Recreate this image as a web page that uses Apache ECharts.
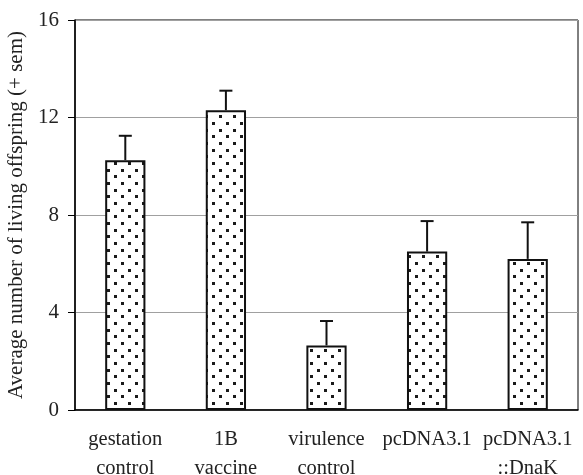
<!DOCTYPE html>
<html>
<head>
<meta charset="utf-8">
<script src="https://cdn.jsdelivr.net/npm/echarts@6/dist/echarts.min.js"></script>
<style>
html,body{margin:0;padding:0;background:#fff;}
#chart{width:583px;height:475px;}
</style>
</head>
<body>
<div id="chart"></div>
<script>
var categories = ['gestation\ncontrol', '1B\nvaccine', 'virulence\ncontrol', 'pcDNA3.1', 'pcDNA3.1\n::DnaK'];
var means = [10.25, 12.3, 2.65, 6.5, 6.2];
var sems = [1.0, 0.8, 1.0, 1.25, 1.5];
var yTicks = [0, 4, 8, 12, 16];

var pc = document.createElement('canvas');
pc.width = 14; pc.height = 40;
var ctx = pc.getContext('2d');
ctx.fillStyle = '#fff';
ctx.fillRect(0, 0, 14, 40);
ctx.fillStyle = '#1a1a1a';
var rowsY = [0, 7, 13, 20, 27, 33];
for (var r = 0; r < rowsY.length; r++) {
  ctx.fillRect((r % 2) * 7 + 2, rowsY[r] + 2, 3, 3);
}

var font = 'Liberation Serif';
var chart = echarts.init(document.getElementById('chart'));
chart.setOption({
  animation: false,
  backgroundColor: '#fff',
  grid: {left: 75, right: 5, top: 20, bottom: 65, show: true, borderColor: '#000', borderWidth: 1, backgroundColor: 'transparent', containLabel: false, outerBoundsMode: 'none'},
  xAxis: {
    type: 'category',
    data: categories,
    axisLine: {lineStyle: {color: '#000', width: 1.5}},
    axisTick: {show: false},
    axisLabel: {color: '#222', fontFamily: font, fontSize: 20.5, lineHeight: 29, margin: 15, interval: 0}
  },
  yAxis: {
    type: 'value',
    min: yTicks[0], max: yTicks[yTicks.length - 1], interval: 4,
    name: 'Average number of living offspring (+ sem)',
    nameLocation: 'middle',
    nameGap: 44,
    nameTextStyle: {color: '#222', fontFamily: font, fontSize: 21},
    axisLine: {show: true, lineStyle: {color: '#000', width: 1.5}},
    axisTick: {show: true, length: 7, lineStyle: {color: '#000'}},
    axisLabel: {color: '#222', fontFamily: font, fontSize: 21, margin: 16},
    splitLine: {lineStyle: {color: '#a0a0a0', width: 1}}
  },
  series: [
    {
      type: 'bar',
      data: means,
      barWidth: '40%',
      itemStyle: {color: {image: pc, repeat: 'repeat'}, borderColor: '#111', borderWidth: 2},
      z: 2
    },
    {
      type: 'custom',
      data: means.map(function (m, i) { return [i, m, m + sems[i]]; }),
      renderItem: function (params, api) {
        var i = api.value(0);
        var p0 = api.coord([i, api.value(1)]);
        var p1 = api.coord([i, api.value(2)]);
        var hw = 6.5;
        return {
          type: 'group',
          children: [
            {type: 'line', shape: {x1: p0[0], y1: p0[1], x2: p1[0], y2: p1[1]}, style: {stroke: '#111', lineWidth: 2}},
            {type: 'line', shape: {x1: p1[0] - hw, y1: p1[1], x2: p1[0] + hw, y2: p1[1]}, style: {stroke: '#111', lineWidth: 2}}
          ]
        };
      },
      z: 3
    }
  ]
});
</script>
</body>
</html>
